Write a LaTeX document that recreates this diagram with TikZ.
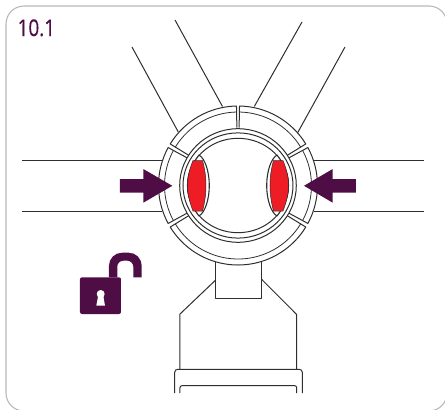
\documentclass[tikz,border=0pt]{standalone}
\usepackage{fontspec}
\setsansfont[FakeBold=0.35]{Open Sans}
\usetikzlibrary{calc}
\definecolor{plum}{HTML}{4E0D44}
\definecolor{ledred}{HTML}{EE1C25}
\definecolor{inkline}{HTML}{2E2E2E}
\definecolor{panelgray}{HTML}{B9B9B9}
\tikzset{wire/.style={draw=inkline, line width=1pt, line join=round},
  pushbar/.style={fill=plum, draw=none},
  redlamp/.style={fill=ledred, draw=inkline, line width=0.5pt}}
\begin{document}
\begin{tikzpicture}[x=1pt, y=1pt, font=\sffamily]
  \useasboundingbox (-238,185.5) rectangle (207,-224.5);
  \draw[panelgray, line width=1.1pt, rounded corners=18pt] (-232,179.5) rectangle (209,-225.5);
  \node[text=plum, font=\sffamily\fontsize{23}{23}\selectfont, inner sep=0pt, anchor=base west, xscale=0.82, transform shape] (title) at (-220.5,149.5) {10.1};
  % straps
  \coordinate (sl1) at (-216,25.2);  \coordinate (sl2) at (-76,25.2);
  \coordinate (sl3) at (-216,-25.8); \coordinate (sl4) at (-76,-25.8);
  \coordinate (sr1) at (186,25.2);   \coordinate (sr2) at (76,25.2);
  \coordinate (sr3) at (186,-25.8);  \coordinate (sr4) at (76,-25.8);
  \draw[wire] (sl1) -- (sl2) (sl3) -- (sl4) (sr1) -- (sr2) (sr3) -- (sr4);
  \draw[wire] (-106,138.5) -- (-59.7,53.5) (-63,165.5) -- (-15.5,79);
  \draw[wire] (64,163.5) -- (16.3,79) (107,138.5) -- (59.5,52.5);
  % dial segments
  \foreach \from/\to in {91.1/148.5, 151.5/208.5, 211.5/328.5, 331.5/388.5, 391.5/448.9}{
    \draw[wire] (\from:58pt) -- (\from:79.5pt) arc[start angle=\from, end angle=\to, radius=79.5pt] -- (\to:58pt);
    \draw[wire, line width=0.8pt] (\from:73.5pt) arc[start angle=\from, end angle=\to, radius=73.5pt];
  }
  % rings
  \draw[wire] (0,0) ellipse[x radius=58.3pt, y radius=56.8pt];
  \draw[wire] (0,0) ellipse[x radius=55pt, y radius=52.6pt];
  \draw[wire] (0,0) ellipse[x radius=50.5pt, y radius=47.2pt];
  % windows
  \foreach \sgn in {1,-1}{
    \begin{scope}[xscale=\sgn]
      \draw[wire, line width=1.1pt, fill=white] (-39,30.5) .. controls (-33,27) and (-28.7,14) .. (-28.7,0)
        .. controls (-28.7,-14) and (-33,-27) .. (-39,-30.5)
        .. controls (-47,-20) and (-50.5,-10) .. (-50.5,0) .. controls (-50.5,10) and (-47,20) .. (-39,30.5) -- cycle;
      \draw[redlamp] (-45,25) -- (-35.5,25) .. controls (-33,16) and (-32,8) .. (-32,0)
        .. controls (-32,-8) and (-33,-16) .. (-35.5,-25.5) -- (-45,-25.5)
        .. controls (-49,-15) and (-50.5,-8) .. (-50.5,0) .. controls (-50.5,8) and (-49,15) .. (-45,25) -- cycle;
    \end{scope}
  }
  % push arrows
  \fill[pushbar] (-118,6.5) -- (-94.7,6.5) -- (-94.7,16.5) -- (-65.7,-0.3) -- (-94.7,-17.2) -- (-94.7,-7) -- (-118,-7) -- cycle;
  \fill[pushbar] (118,6.5) -- (94.7,6.5) -- (94.7,16.5) -- (66,-0.3) -- (94.7,-17.2) -- (94.7,-7) -- (118,-7) -- cycle;
  % padlock
  \fill[plum] (-129,-91.8) -- (-129,-80.2) arc[start angle=180, end angle=90, radius=13pt] -- (-109.3,-67.2) arc[start angle=90, end angle=0, radius=13pt] -- (-96.3,-91.8) -- (-104.7,-91.8) -- (-104.7,-81.2) arc[start angle=0, end angle=90, radius=6pt] -- (-114.7,-75.2) arc[start angle=90, end angle=180, radius=6pt] -- (-120.7,-91.8) -- cycle;
  \fill[plum, rounded corners=2pt] (-158,-91.8) rectangle (-117,-128.5);
  \fill[white] (-137.3,-108.5) circle[radius=4pt];
  \fill[white] (-139.5,-108.5) -- (-135,-108.5) -- (-133,-120.2) -- (-141.7,-120.2) -- cycle;
  % handle
  \draw[wire] (-22.3,-76.3) -- (-22.3,-112.8) -- (23.3,-112.8) -- (23.3,-76);
  \draw[wire] (-22.3,-94.5) -- (-58,-128.5) -- (-58,-183.8);
  \draw[wire] (23.3,-93.5) -- (58.7,-129) -- (58.7,-183.8);
  \draw[wire, rounded corners=3pt] (-63.3,-207.5) -- (-63.3,-183.8) -- (64.3,-183.8) -- (64.3,-207.5);
  \draw[wire, rounded corners=2pt] (-58,-207.5) -- (-58,-200.2) -- (58.7,-200.2) -- (58.7,-207.5);
\end{tikzpicture}
\end{document}
